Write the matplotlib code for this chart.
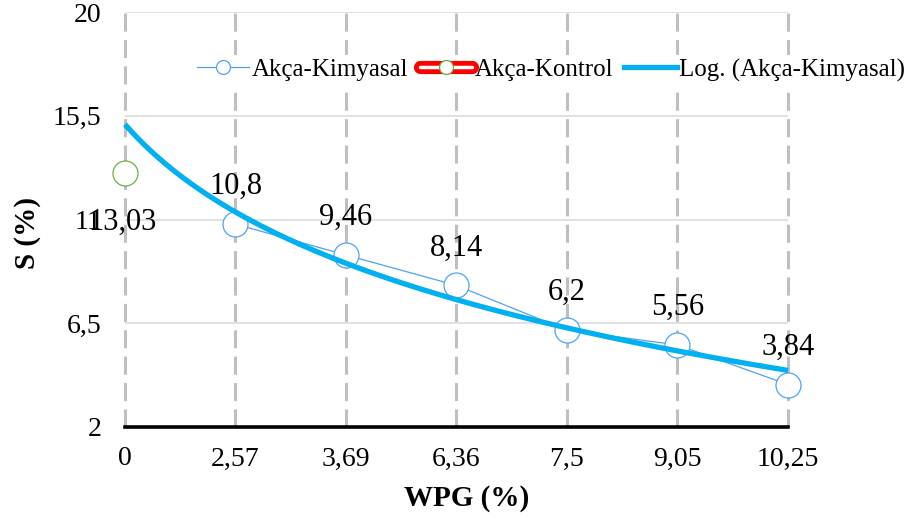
import numpy as np
import matplotlib
matplotlib.use("Agg")
import matplotlib.pyplot as plt
from matplotlib.lines import Line2D

plt.rcParams['font.family'] = ['Liberation Serif', 'DejaVu Serif']
plt.rcParams['lines.scale_dashes'] = False

# WPG levels (category axis) and shrinkage values
wpg_labels = ['0', '2,57', '3,69', '6,36', '7,5', '9,05', '10,25']
kimyasal = [10.8, 9.46, 8.14, 6.2, 5.56, 3.84]   # categories 1..6
kontrol = [13.03]                                # category 0
y_ticks = [2, 6.5, 11, 15.5, 20]
y_tick_labels = ['2', '6,5', '11', '15,5', '20']

c_kim = '#4da3f5'
c_kon = '#70ad47'
c_log = '#00b0f0'

fig = plt.figure(figsize=(9.12, 5.19), dpi=100)
ax = fig.add_axes([125 / 912, 92 / 519, 663 / 912, 415 / 519])

x_kim = np.arange(1, len(kimyasal) + 1)
x_kon = np.arange(len(kontrol))

# logarithmic trendline, spreadsheet style: x runs 1..n over the categories
a, b = np.polyfit(np.log(x_kim + 1), kimyasal, 1)
xs = np.linspace(0, len(wpg_labels) - 1, 300)
ax.plot(xs, a * np.log(xs + 1) + b, color=c_log, lw=3.8, zorder=5,
        solid_capstyle='butt', clip_on=False)

ax.plot(x_kim, kimyasal, color=c_kim, lw=0.9, marker='o', ms=18,
        mfc='white', mec=c_kim, mew=0.9, zorder=4, clip_on=False)
ax.plot(x_kon, kontrol, linestyle='none', marker='o', ms=18,
        mfc='white', mec=c_kon, mew=0.9, zorder=4, clip_on=False)

# data labels
for x, y in zip(x_kim, kimyasal):
    ax.annotate(f'{y:g}'.replace('.', ','), (x, y), xytext=(0, 21.5),
                textcoords='offset points', ha='center', va='baseline',
                fontsize=22, zorder=6)
for x, y in zip(x_kon, kontrol):
    ax.annotate(f'{y:.2f}'.replace('.', ','), (x, y), xytext=(-2, -41),
                textcoords='offset points', ha='center', va='baseline',
                fontsize=22, zorder=6)

ax.set_xlim(0, len(wpg_labels) - 1)
ax.set_ylim(y_ticks[0], y_ticks[-1])
ax.set_xticks(range(len(wpg_labels)))
ax.set_xticklabels(wpg_labels)
ax.set_yticks(y_ticks)
ax.set_yticklabels(y_tick_labels)
ax.tick_params(axis='both', length=0, labelsize=20)
ax.tick_params(axis='x', pad=14)
ax.tick_params(axis='y', pad=17)

for s in ['left', 'top', 'right']:
    ax.spines[s].set_visible(False)
ax.spines['bottom'].set_color('black')
ax.spines['bottom'].set_linewidth(2.6)
ax.spines['bottom'].set_zorder(3)

ax.set_axisbelow(True)
ax.yaxis.grid(True, color='#d9d9d9', lw=1.1)
ax.xaxis.grid(True, color='#bfbfbf', lw=2.2, dashes=(13, 6))
for gl in ax.get_xgridlines():
    gl.set_clip_on(False)

fig.text(28 / 912, 1 - 233 / 519, 'S (%)', rotation=90, ha='center',
         va='center', fontsize=21, fontweight='bold')
fig.text(467 / 912, 1 - 499 / 519, 'WPG (%)', ha='center', va='center',
         fontsize=21, fontweight='bold')

# legend
h_kim = Line2D([], [], color=c_kim, lw=0.9, marker='o', ms=10,
               mfc='white', mec=c_kim, mew=0.9)
h_kon = (Line2D([], [], color='#ff0000', lw=9.5, solid_capstyle='round'),
         Line2D([], [], color='white', lw=2.5, solid_capstyle='round'),
         Line2D([], [], linestyle='none', marker='o', ms=10, mfc='white',
                mec=c_kon, mew=0.9))
h_log = Line2D([], [], color=c_log, lw=3.8)
leg = ax.legend([h_kim, h_kon, h_log],
                ['Akça-Kimyasal', 'Akça-Kontrol', 'Log. (Akça-Kimyasal)'],
                ncol=3, loc='center left', bbox_to_anchor=(193 / 912, 1 - 70 / 519),
                bbox_transform=fig.transFigure, fontsize=18, frameon=True,
                fancybox=False, edgecolor='none', facecolor='white', framealpha=1,
                handlelength=2.1, handletextpad=0.1, columnspacing=0.45,
                borderpad=0.15, borderaxespad=0)
leg.set_zorder(7)

fig.savefig('out.png', dpi=100)
